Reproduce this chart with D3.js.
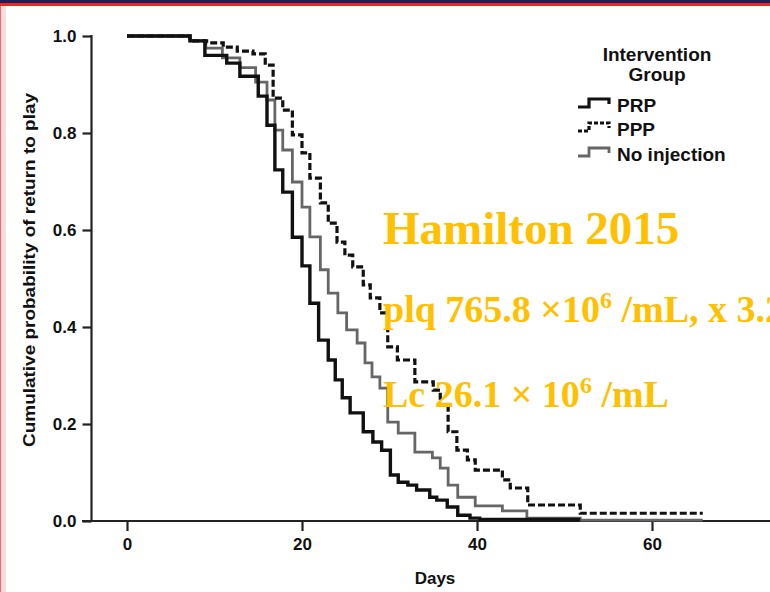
<!DOCTYPE html>
<html><head><meta charset="utf-8">
<script src="https://cdn.jsdelivr.net/npm/d3@7"></script>
<style>html,body{margin:0;padding:0;background:#fff;}svg{display:block;}</style>
</head><body>
<svg id="c" width="770" height="592"></svg>
<script>
// ---- data (days, cumulative probability) ----
const prpDays = [0, 7.2, 8.9, 11.4, 12.9, 15.0, 16.0, 16.9, 17.8, 18.9, 20.0, 20.9, 21.9, 23.0, 23.8, 24.6, 25.5, 27.0, 28.1, 29.1, 30.1, 31.0, 32.1, 33.1, 34.6, 35.4, 36.6, 37.8, 39.2, 40.3, 51.8];
const prpProb = [1.0, 0.99, 0.96, 0.944, 0.917, 0.876, 0.816, 0.724, 0.678, 0.585, 0.526, 0.449, 0.373, 0.332, 0.291, 0.254, 0.223, 0.184, 0.163, 0.146, 0.095, 0.080, 0.074, 0.064, 0.049, 0.043, 0.029, 0.012, 0.006, 0.003, 0.003];
const pppDays = [0, 7.2, 9.1, 11.0, 12.6, 14.4, 15.8, 16.7, 17.8, 18.9, 20.0, 20.9, 22.1, 23.0, 24.0, 24.9, 25.8, 27.0, 27.8, 28.9, 29.8, 30.9, 32.9, 35.0, 35.8, 36.7, 37.7, 38.9, 39.8, 42.9, 43.8, 45.8, 51.8, 65.8];
const pppProb = [1.0, 0.99, 0.986, 0.977, 0.969, 0.963, 0.940, 0.872, 0.847, 0.796, 0.759, 0.707, 0.656, 0.614, 0.575, 0.548, 0.524, 0.487, 0.460, 0.429, 0.359, 0.332, 0.287, 0.270, 0.239, 0.184, 0.146, 0.126, 0.105, 0.085, 0.068, 0.033, 0.016, 0.016];
const noneDays = [0, 7.2, 9.0, 10.9, 12.9, 14.7, 16.0, 16.9, 17.8, 18.9, 20.0, 20.9, 22.1, 23.0, 24.1, 25.1, 26.3, 27.2, 28.0, 28.9, 29.8, 31.0, 32.9, 34.9, 35.8, 36.7, 37.8, 39.8, 42.9, 45.7, 51.8, 65.8];
const noneProb = [1.0, 0.99, 0.975, 0.955, 0.935, 0.905, 0.868, 0.806, 0.765, 0.699, 0.647, 0.586, 0.518, 0.470, 0.429, 0.394, 0.367, 0.326, 0.297, 0.274, 0.204, 0.181, 0.142, 0.130, 0.109, 0.074, 0.049, 0.031, 0.021, 0.006, 0.002, 0.002];
const xTicks = [0, 20, 40, 60];
const yTicks = [0, 0.2, 0.4, 0.6, 0.8, 1.0];
const groups = ["PRP", "PPP", "No injection"];

const svg = d3.select("#c");
// frame decorations
svg.append("rect").attr("x",0).attr("y",0).attr("width",770).attr("height",3).attr("fill","#1c1f5a");
svg.append("rect").attr("x",0).attr("y",3).attr("width",770).attr("height",3).attr("fill","#e62a1f");
svg.append("rect").attr("x",0).attr("y",6).attr("width",6).attr("height",586).attr("fill","#fbdcdc");
svg.append("rect").attr("x",0).attr("y",6).attr("width",1).attr("height",586).attr("fill","#ee6a64");

const x = d3.scaleLinear().domain([0, 60]).range([127, 652]);
const y = d3.scaleLinear().domain([0, 1]).range([521, 36]);

// axes
const xAxis = svg.append("g").attr("transform","translate(0,521)")
  .call(d3.axisBottom(x).tickValues(xTicks).tickSize(10).tickSizeOuter(0).tickPadding(7));
xAxis.select(".domain").remove();
svg.append("line").attr("x1",82).attr("x2",770).attr("y1",521).attr("y2",521)
  .attr("stroke","#222").attr("stroke-width",2.2);
const yAxis = svg.append("g").attr("transform","translate(91.5,0)")
  .call(d3.axisLeft(y).tickValues(yTicks).tickFormat(d3.format(".1f")).tickSize(9).tickSizeOuter(0).tickPadding(6));
yAxis.select(".domain").remove();
svg.append("line").attr("x1",91.5).attr("x2",91.5).attr("y1",35).attr("y2",521)
  .attr("stroke","#222").attr("stroke-width",2.2);
svg.selectAll(".tick line").attr("stroke","#222").attr("stroke-width",2.2);
svg.selectAll(".tick text").attr("fill","#111").attr("font-family","'Liberation Sans', Arial, sans-serif")
  .attr("font-weight","bold").attr("font-size",17);

svg.append("text").attr("x",435).attr("y",584).attr("text-anchor","middle")
  .attr("font-family","'Liberation Sans', Arial, sans-serif").attr("font-weight","bold").attr("font-size",17)
  .attr("fill","#111").text("Days");
svg.append("text").attr("transform","translate(35,270) rotate(-90)").attr("text-anchor","middle")
  .attr("font-family","'Liberation Sans', Arial, sans-serif").attr("font-weight","bold").attr("font-size",16)
  .attr("textLength",354).attr("lengthAdjust","spacingAndGlyphs")
  .attr("fill","#111").text("Cumulative probability of return to play");

// curves
const line = d3.line().x(d => x(d[0])).y(d => y(d[1])).curve(d3.curveStepAfter);
const series = [
  {name:"No injection", days:noneDays, prob:noneProb, color:"#666", width:2.8, dash:null},
  {name:"PPP", days:pppDays, prob:pppProb, color:"#111", width:3.2, dash:"7,3"},
  {name:"PRP", days:prpDays, prob:prpProb, color:"#111", width:3.4, dash:null}
];
series.forEach(s => {
  svg.append("path").datum(d3.zip(s.days, s.prob)).attr("d", line)
    .attr("fill","none").attr("stroke", s.color).attr("stroke-width", s.width)
    .attr("stroke-dasharray", s.dash).attr("stroke-linejoin","miter");
});

// legend
const lf = "'Liberation Sans', Arial, sans-serif";
svg.append("text").attr("x",657).attr("y",61).attr("text-anchor","middle").attr("font-family",lf)
  .attr("font-weight","bold").attr("font-size",19).attr("fill","#111").text("Intervention");
svg.append("text").attr("x",657).attr("y",81).attr("text-anchor","middle").attr("font-family",lf)
  .attr("font-weight","bold").attr("font-size",19).attr("fill","#111").text("Group");
const legY = [112, 136, 161];
const legStyle = {"PRP":["#111",3.2,null],"PPP":["#111",3.2,"4,2"],"No injection":["#666",2.8,null]};
groups.forEach((g,i) => {
  const by = legY[i] - 6;
  const st = legStyle[g];
  svg.append("path").attr("d",`M578,${by+1}H589V${by-7}H609V${by-2}`)
    .attr("fill","none").attr("stroke",st[0]).attr("stroke-width",st[1]).attr("stroke-dasharray",st[2]);
  svg.append("text").attr("x",617).attr("y",legY[i]).attr("font-family",lf).attr("font-weight","bold")
    .attr("font-size",19).attr("fill","#111").text(g);
});

// annotations
const af = "'Liberation Serif', 'Times New Roman', serif";
svg.append("text").attr("x",383).attr("y",244).attr("font-family",af).attr("font-weight","bold")
  .attr("font-size",47).attr("fill","#FFC000").text("Hamilton 2015");
const t2 = svg.append("text").attr("x",383).attr("y",322).attr("font-family",af).attr("font-weight","bold")
  .attr("font-size",38).attr("fill","#FFC000");
t2.append("tspan").text("plq 765.8 \u00d710");
t2.append("tspan").attr("dy",-14).attr("font-size",24).text("6");
t2.append("tspan").attr("dy",14).text(" /mL, x 3.2");
const t3 = svg.append("text").attr("x",383).attr("y",407).attr("font-family",af).attr("font-weight","bold")
  .attr("font-size",38).attr("fill","#FFC000");
t3.append("tspan").text("Lc 26.1 \u00d7 10");
t3.append("tspan").attr("dy",-14).attr("font-size",24).text("6");
t3.append("tspan").attr("dy",14).text(" /mL");
</script>
</body></html>
